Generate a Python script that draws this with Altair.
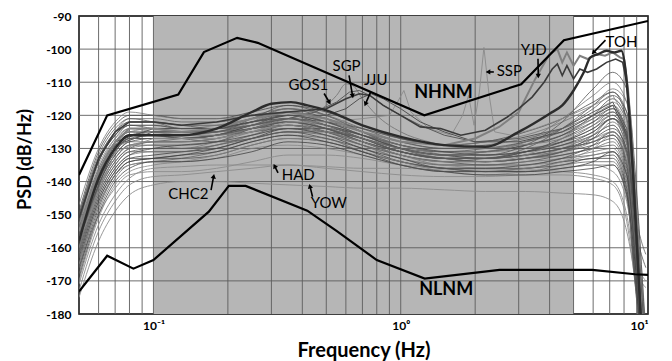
import math
import altair as alt
import pandas as pd

# ---------------- data ----------------
FREQ = [0.05, 0.06, 0.07, 0.08, 0.1, 0.13, 0.18, 0.25, 0.35, 0.5, 0.7, 1.0,
        1.5, 2.2, 3.2, 4.5, 6.0, 7.2, 8.2, 8.9, 9.4, 9.8]

BUNDLE = [
    [-149, -131, -123, -120, -120, -121, -121, -119, -117, -119, -123, -127, -129, -128, -125, -121, -116, -113, -121, -148, -172, -190],
    [-151, -133, -125, -121, -121, -122, -122, -120, -118, -120, -124, -128, -130, -129, -127, -124, -120, -117, -126, -152, -176, -190],
    [-153, -134, -126, -122, -122, -123, -123, -121, -118, -121, -125, -129, -131, -131, -129, -126, -122, -119, -128, -155, -180, -190],
    [-154, -136, -127, -123, -123, -124, -123, -121, -119, -121, -125, -129, -131, -131, -130, -128, -124, -121, -131, -158, -183, -190],
    [-155, -137, -128, -124, -124, -125, -124, -122, -119, -122, -126, -130, -132, -132, -131, -129, -126, -123, -132, -160, -185, -190],
    [-156, -138, -129, -125, -125, -126, -125, -122, -120, -122, -126, -130, -132, -132, -131, -129, -127, -125, -134, -162, -187, -190],
    [-157, -139, -130, -126, -126, -127, -126, -123, -120, -123, -127, -131, -133, -133, -132, -130, -128, -126, -135, -163, -189, -190],
    [-158, -140, -131, -127, -127, -127, -126, -123, -121, -123, -127, -131, -133, -134, -133, -131, -129, -127, -136, -164, -180, -190],
    [-158, -141, -132, -128, -128, -128, -127, -124, -121, -124, -128, -132, -134, -134, -133, -132, -130, -128, -137, -165, -182, -190],
    [-160, -142, -133, -129, -129, -129, -128, -124, -122, -124, -128, -132, -134, -135, -134, -132, -130, -129, -138, -166, -184, -190],
    [-161, -143, -134, -130, -129, -130, -128, -125, -122, -125, -129, -132, -135, -135, -134, -133, -131, -130, -139, -167, -186, -190],
    [-162, -144, -135, -131, -130, -130, -129, -126, -123, -125, -129, -133, -135, -135, -135, -133, -132, -131, -140, -168, -188, -190],
    [-163, -145, -136, -132, -131, -131, -129, -126, -124, -126, -129, -133, -135, -136, -135, -134, -132, -131, -141, -169, -190, -190],
    [-164, -146, -137, -133, -132, -131, -130, -127, -124, -126, -130, -133, -136, -136, -136, -134, -133, -132, -142, -170, -185, -190],
    [-166, -147, -138, -134, -133, -132, -130, -127, -125, -127, -130, -134, -136, -137, -136, -135, -133, -133, -143, -171, -187, -190],
    [-168, -149, -139, -135, -134, -133, -131, -128, -126, -127, -131, -134, -136, -137, -137, -135, -134, -134, -144, -172, -189, -190],
    [-152, -134, -126, -123, -124, -125, -125, -121, -117, -120, -125, -130, -133, -133, -131, -127, -122, -118, -127, -154, -179, -190],
    [-155, -137, -128, -125, -126, -127, -126, -122, -118, -120, -125, -130, -133, -134, -133, -130, -126, -123, -131, -157, -182, -190],
    [-150, -132, -124, -121, -122, -124, -124, -121, -120, -122, -125, -128, -130, -130, -128, -124, -118, -114, -119, -145, -170, -185],
    [-153, -135, -127, -124, -125, -126, -125, -123, -121, -123, -126, -129, -131, -131, -129, -126, -121, -117, -123, -150, -175, -190],
    [-159, -141, -132, -128, -127, -127, -126, -124, -123, -125, -128, -131, -133, -133, -131, -128, -124, -120, -127, -156, -180, -190],
    [-156, -138, -130, -126, -126, -126, -125, -124, -122, -124, -127, -130, -132, -131, -129, -126, -120, -115, -121, -149, -173, -188],
    [-162, -144, -135, -131, -131, -131, -129, -127, -125, -126, -129, -132, -134, -133, -131, -128, -123, -119, -126, -150, -158, -162],
    [-165, -146, -137, -133, -133, -133, -132, -129, -127, -128, -131, -134, -136, -136, -135, -133, -129, -125, -131, -155, -162, -166],
    [-147, -130, -122, -119, -120, -121, -121, -120, -119, -121, -124, -127, -129, -128, -126, -122, -117, -112, -116, -140, -165, -185],
    [-160, -141, -131, -127, -126, -127, -128, -127, -125, -125, -127, -130, -131, -130, -128, -125, -121, -118, -124, -152, -178, -190],
    [-170, -151, -141, -137, -135, -134, -132, -129, -127, -128, -131, -134, -137, -138, -137, -136, -135, -135, -145, -163, -168, -170],
    [-167, -148, -138, -134, -133, -132, -131, -128, -126, -128, -131, -135, -137, -138, -138, -137, -136, -135, -144, -166, -186, -190],
    [-163, -145, -136, -132, -130, -129, -128, -126, -124, -124, -126, -129, -131, -132, -131, -129, -125, -121, -128, -157, -181, -190],
    [-157, -138, -130, -127, -127, -127, -126, -124, -123, -125, -128, -131, -133, -134, -133, -131, -127, -122, -129, -158, -183, -190],
    [-150, -133, -125, -122, -122, -123, -124, -123, -121, -122, -124, -127, -129, -130, -130, -128, -125, -121, -126, -150, -176, -190],
    [-154, -136, -128, -125, -124, -124, -124, -123, -122, -123, -126, -129, -132, -133, -132, -131, -128, -125, -132, -160, -184, -190],
    [-161, -143, -134, -130, -128, -128, -127, -125, -124, -125, -127, -131, -133, -134, -133, -131, -126, -121, -127, -155, -180, -190],
    [-165, -147, -138, -135, -134, -134, -133, -130, -129, -130, -132, -135, -137, -137, -136, -134, -130, -126, -133, -160, -184, -190],
    [-169, -150, -140, -136, -134, -134, -133, -131, -128, -129, -132, -135, -137, -137, -137, -136, -134, -131, -138, -163, -187, -190],
    [-158, -139, -130, -126, -125, -125, -124, -122, -121, -123, -126, -130, -132, -133, -132, -130, -127, -124, -130, -158, -182, -190],
    [-160, -142, -133, -129, -128, -127, -126, -125, -123, -124, -127, -131, -133, -133, -132, -130, -128, -126, -134, -162, -186, -190],
    [-152, -134, -126, -123, -123, -124, -124, -122, -120, -122, -126, -130, -132, -132, -129, -122, -112, -107, -112, -138, -165, -188],
    [-155, -137, -129, -125, -125, -125, -125, -123, -121, -123, -127, -130, -132, -131, -128, -121, -114, -110, -116, -143, -170, -190],
    [-158, -140, -131, -127, -127, -127, -126, -124, -122, -124, -128, -131, -133, -133, -130, -124, -117, -113, -119, -147, -174, -190],
    [-160, -142, -133, -129, -128, -128, -127, -125, -123, -125, -128, -132, -134, -134, -132, -127, -120, -116, -122, -151, -178, -190],
]

LOWER = {
    "CHC2": [-173, -155, -146, -141, -138.5, -138, -137, -136, -135, -136, -137, -138, -138.5, -138.5, -138, -138, -139, -141, -152, -172, -190, -190],
    "HAD":  [-171, -153, -144, -139, -136, -135.5, -135, -135, -135, -135.5, -136, -136, -136.5, -136.5, -136.5, -137, -138, -140, -150, -170, -190, -190],
    "YOW":  [-175, -158, -149, -144, -141, -140, -140, -140.5, -141, -141.5, -142, -142, -142.5, -143, -143, -143.5, -144, -146, -155, -171, -188, -190],
    "L4":   [-166, -150, -142, -138, -137, -137, -136, -134, -132, -132, -133, -135, -136, -137, -137, -136, -135, -137, -146, -162, -170, -172],
}

TOH_F = [0.05, 0.06, 0.07, 0.08, 0.1, 0.13, 0.18, 0.25, 0.3, 0.36, 0.42, 0.5, 0.7, 1.0, 1.5, 2.2, 3.0, 4.0, 4.5, 5.0, 5.5, 5.85, 6.3, 6.8, 7.3, 7.8, 8.1, 8.4, 8.7, 9.0, 9.4]
TOH_V = [-158, -139, -130, -126, -126, -126, -124, -119, -116.5, -116, -117, -118.5, -123, -126.5, -129, -129.5, -125, -119.5, -117, -112.5, -107, -102.5, -101.5, -100.5, -101, -100.5, -106, -120, -138, -158, -185]

YJD_F = [0.05, 0.06, 0.07, 0.08, 0.1, 0.13, 0.18, 0.25, 0.35, 0.5, 0.7, 1.0, 1.5, 2.0, 2.5, 3.0, 3.5, 4.0, 4.3, 4.5, 4.7, 5.0, 5.3, 5.7, 6.2, 6.7, 7.2, 7.7, 8.0, 8.3, 8.6, 8.9, 9.2, 9.6]
YJD_V = [-155, -137, -128, -124, -124, -125, -124, -121, -119, -121, -125, -128, -129, -127, -123.5, -119, -109, -101.5, -100, -104, -101, -105, -102, -103, -101.5, -102, -101, -102.5, -103, -112, -127, -146, -168, -190]

DARK_F = [0.05, 0.06, 0.07, 0.08, 0.1, 0.13, 0.18, 0.25, 0.35, 0.5, 0.6, 0.68, 0.75, 0.85, 1.0, 1.2, 1.45, 1.75, 2.2, 2.7, 3.0, 3.4, 3.8, 4.1, 4.3, 4.5, 4.7, 5.0, 5.3, 5.7, 6.2, 6.8, 7.4, 7.9, 8.2, 8.5, 8.8, 9.1, 9.5]
DARK_V = [-151, -133, -125, -122, -122, -123, -122, -120, -119, -118, -115, -113.5, -114, -117, -120, -123.5, -124, -126, -124.5, -120.5, -118, -114.5, -110, -106, -104.5, -108, -105, -109, -106, -107, -106, -104, -103, -104, -110, -124, -142, -162, -188]

SGP_F = [0.05, 0.07, 0.1, 0.18, 0.25, 0.35, 0.45, 0.55, 0.62, 0.68, 0.75, 0.85, 1.0, 1.2, 1.5, 2.0, 3.0, 4.5, 6.0, 7.2, 8.2, 8.9, 9.4]
SGP_V = [-156, -129, -125, -125, -123, -121, -119, -116, -113, -112.5, -114, -117, -120, -123, -126, -128, -127, -124, -119, -116, -124, -152, -178]

JJU_F = [0.05, 0.07, 0.1, 0.18, 0.25, 0.35, 0.5, 0.6, 0.68, 0.76, 0.85, 1.0, 1.2, 1.5, 2.0, 3.0, 4.5, 6.0, 7.2, 8.2, 8.9, 9.4]
JJU_V = [-154, -128, -124, -124, -122, -120, -120, -118, -115, -113.5, -115, -118, -122, -125, -128, -128, -125, -120, -117, -125, -153, -179]

GOS1_F = [0.05, 0.07, 0.1, 0.18, 0.25, 0.35, 0.45, 0.5, 0.55, 0.6, 0.64, 0.7, 0.8, 1.0, 1.3, 2.0, 3.0, 4.5, 6.0, 7.2, 8.2, 8.9, 9.4]
GOS1_V = [-157, -130, -126, -126, -124, -121, -119, -117, -114, -110.5, -111, -115, -120, -125, -128, -130, -129, -127, -123, -120, -128, -155, -180]

SSP_F = [0.05, 0.07, 0.1, 0.18, 0.25, 0.35, 0.5, 0.7, 0.9, 0.97, 1.03, 1.1, 1.3, 1.6, 1.78, 1.88, 1.98, 2.08, 2.17, 2.27, 2.4, 2.8, 3.5, 4.5, 6.0, 7.2, 8.2, 8.9, 9.4]
SSP_V = [-158, -131, -127, -127, -125, -122, -122, -121, -120, -116, -112.5, -119, -124, -126, -120, -114, -123, -113, -99.5, -113, -125, -126, -124, -121, -117, -114, -121, -150, -177]

NHNM_F = [0.05, 0.065, 0.126, 0.16, 0.218, 0.264, 1.246, 3.07, 4.57, 10]
NHNM_V = [-138, -120, -113.7, -100.9, -96.6, -98.1, -120, -110.6, -97.3, -91.5]

NLNM_F = [0.05, 0.065, 0.083, 0.1, 0.1675, 0.2018, 0.236, 0.419, 0.55, 0.8, 1.25, 2.51, 5.95, 8.87, 10]
NLNM_V = [-173.2, -162.4, -166.3, -163.7, -149.1, -141.3, -141.3, -148.8, -154.9, -163.7, -169.3, -166.7, -166.7, -168, -168.2]

STATION_LABELS = ["GOS1", "SGP", "JJU", "SSP", "YJD", "TOH", "CHC2", "HAD", "YOW"]
STATION_F = [0.423, 0.604, 0.792, 2.75, 3.45, 7.81, 0.1384, 0.385, 0.512]
STATION_V = [-110.9, -105.1, -109.4, -106.7, -100.3, -97.8, -143.8, -138.1, -146.6]

MODEL_LABELS = ["NHNM", "NLNM"]
MODEL_F = [1.49, 1.527]
MODEL_V = [-113.2, -172.9]

# arrows: start (f, v) -> end (f, v)
ARROW_F0 = [0.49, 0.618, 0.756, 2.38, 3.59, 6.73, 0.171, 0.319, 0.44]
ARROW_V0 = [-113.4, -107.9, -112.9, -106.9, -102.9, -97.3, -142.6, -137.4, -144.6]
ARROW_F1 = [0.513, 0.638, 0.722, 2.27, 3.60, 6.04, 0.175, 0.31, 0.43]
ARROW_V1 = [-115.9, -113.9, -116.4, -106.9, -107.9, -100.9, -138.6, -135.5, -141.6]

BAND_F = [0.1, 5.0]
VGRID = [0.05, 0.06, 0.07, 0.08, 0.09, 0.1, 0.2, 0.3, 0.4, 0.5, 0.6, 0.7, 0.8, 0.9,
         1, 2, 3, 4, 5, 6, 7, 8, 9, 10]
HGRID = [-170, -160, -150, -140, -130, -120, -110, -100]
YTICKS = [-180, -170, -160, -150, -140, -130, -120, -110, -100, -90]
XTICKS = [0.1, 1, 10]

# ---------------- styling ----------------
W, H = 569, 298
FONT = "Lato"
SHADES = ["#444444", "#606060", "#4e4e4e", "#727272", "#575757", "#828282", "#3e3e3e"]

XS = alt.Scale(type="log", domain=[0.05, 10], nice=False)
YS = alt.Scale(domain=[-180, -90], nice=False)

X_AXIS = alt.Axis(values=XTICKS, grid=False, ticks=False, tickSize=0, domain=False,
                  labelExpr="datum.value == 0.1 ? '10⁻¹' : datum.value == 1 ? '10⁰' : '10¹'",
                  labelPadding=6, labelFontSize=12, title="Frequency (Hz)",
                  titleY=42, titleBaseline="alphabetic", titleFontSize=20)
Y_AXIS = alt.Axis(values=YTICKS, grid=False, ticks=False, tickSize=0, domain=False,
                  labelExpr="'' + datum.value", labelPadding=8, labelFontSize=12,
                  title="PSD (dB/Hz)", titleX=-54, titleY=143, titleAngle=270,
                  titleAlign="center", titleBaseline="middle", titleFontSize=18)


def X(field):
    return alt.X(field, scale=XS, axis=X_AXIS)


def Y(field):
    return alt.Y(field, scale=YS, axis=Y_AXIS)


# ---------------- frames ----------------
rows = []
for i, vals in enumerate(BUNDLE):
    for f, v in zip(FREQ, vals):
        rows.append({"curve": f"b{i}", "f": f, "v": v, "shade": SHADES[i % len(SHADES)]})
bundle_df = pd.DataFrame(rows)

low_rows = []
for name, vals in LOWER.items():
    for f, v in zip(FREQ, vals):
        low_rows.append({"curve": name, "f": f, "v": v})
low_df = pd.DataFrame(low_rows)


def curve_df(fs, vs, name):
    return pd.DataFrame({"curve": name, "f": fs, "v": vs})


band_df = pd.DataFrame({"f": [BAND_F[0]], "f1": [BAND_F[1]], "v": [-180], "v1": [-90]})
vgrid_df = pd.DataFrame({"f": VGRID})
hgrid_df = pd.DataFrame({"v": HGRID})

st_df = pd.DataFrame({"label": STATION_LABELS, "f": STATION_F, "v": STATION_V})
md_df = pd.DataFrame({"label": MODEL_LABELS, "f": MODEL_F, "v": MODEL_V})

KX = W / math.log10(10 / 0.05)
KY = H / 90.0
angles = []
for f0, v0, f1, v1 in zip(ARROW_F0, ARROW_V0, ARROW_F1, ARROW_V1):
    dx = (math.log10(f1) - math.log10(f0)) * KX
    dy = -(v1 - v0) * KY
    angles.append(math.degrees(math.atan2(dx, -dy)) % 360)
arr_df = pd.DataFrame({"f": ARROW_F0, "v": ARROW_V0, "f1": ARROW_F1, "v1": ARROW_V1, "ang": angles})
head_df = pd.DataFrame({"f": ARROW_F1, "v": ARROW_V1, "ang": angles})

# ---------------- layers ----------------
band = alt.Chart(band_df).mark_rect(color="#b6b6b6").encode(
    x=X("f:Q"), x2="f1:Q", y=Y("v:Q"), y2="v1:Q")

vgrid = alt.Chart(vgrid_df).mark_rule(color="#5c5c5c", strokeWidth=0.9).encode(x=X("f:Q"))
hgrid = alt.Chart(hgrid_df).mark_rule(color="#5c5c5c", strokeWidth=0.9).encode(y=Y("v:Q"))

lower = alt.Chart(low_df).mark_line(color="#8c8c8c", strokeWidth=0.9, clip=True,
                                    interpolate="monotone").encode(
    detail="curve:N", x=X("f:Q"), y=Y("v:Q"))
bundle = alt.Chart(bundle_df).mark_line(strokeWidth=0.85, opacity=0.9, clip=True,
                                        interpolate="monotone").encode(
    detail="curve:N", color=alt.Color("shade:N", scale=None), x=X("f:Q"), y=Y("v:Q"))


def special(fs, vs, name, color, width, interp="linear"):
    return alt.Chart(curve_df(fs, vs, name)).mark_line(
        color=color, strokeWidth=width, clip=True, interpolate=interp).encode(
        x=X("f:Q"), y=Y("v:Q"))


ssp = special(SSP_F, SSP_V, "SSP", "#8a8a8a", 0.9)
gos = special(GOS1_F, GOS1_V, "GOS1", "#777777", 0.9, "monotone")
sgp = special(SGP_F, SGP_V, "SGP", "#5a5a5a", 1.0)
jju = special(JJU_F, JJU_V, "JJU", "#505050", 1.0)
yjd = special(YJD_F, YJD_V, "YJD", "#808080", 2.0)
dark = special(DARK_F, DARK_V, "DARK", "#3a3a3a", 1.6)
toh = special(TOH_F, TOH_V, "TOH", "#2c2c2c", 2.4, "monotone")

nhnm = special(NHNM_F, NHNM_V, "NHNM", "black", 2.2)
nlnm = special(NLNM_F, NLNM_V, "NLNM", "black", 2.2)

arrow_lines = alt.Chart(arr_df).mark_rule(color="black", strokeWidth=1.6).encode(
    x=X("f:Q"), x2="f1:Q", y=Y("v:Q"), y2="v1:Q")
arrow_heads = alt.Chart(head_df).mark_point(shape="triangle", filled=True, color="black",
                                            size=28, opacity=1).encode(
    x=X("f:Q"), y=Y("v:Q"), angle=alt.Angle("ang:Q", scale=None))

st_text = alt.Chart(st_df).mark_text(font=FONT, fontSize=15, color="black",
                                     align="center", baseline="middle").encode(
    x=X("f:Q"), y=Y("v:Q"), text="label:N")
md_text = alt.Chart(md_df).mark_text(font=FONT, fontSize=18, fontWeight="bold", color="black",
                                     align="center", baseline="middle").encode(
    x=X("f:Q"), y=Y("v:Q"), text="label:N")

chart = alt.layer(
    band, vgrid, hgrid, lower, bundle, ssp, gos, sgp, jju, yjd, dark, toh,
    nhnm, nlnm, arrow_lines, arrow_heads, st_text, md_text
).properties(
    width=W, height=H,
    autosize=alt.AutoSizeParams(type="none"),
    padding={"left": 79, "top": 16, "right": 24, "bottom": 47},
    background="white",
).configure_view(
    stroke="black", strokeWidth=1.6
).configure_axis(
    labelFont=FONT, labelFontWeight="bold", labelColor="black",
    titleFont=FONT, titleFontWeight="bold", titleColor="black",
)

chart.save("out.html", embed_options={"renderer": "svg", "actions": False})
